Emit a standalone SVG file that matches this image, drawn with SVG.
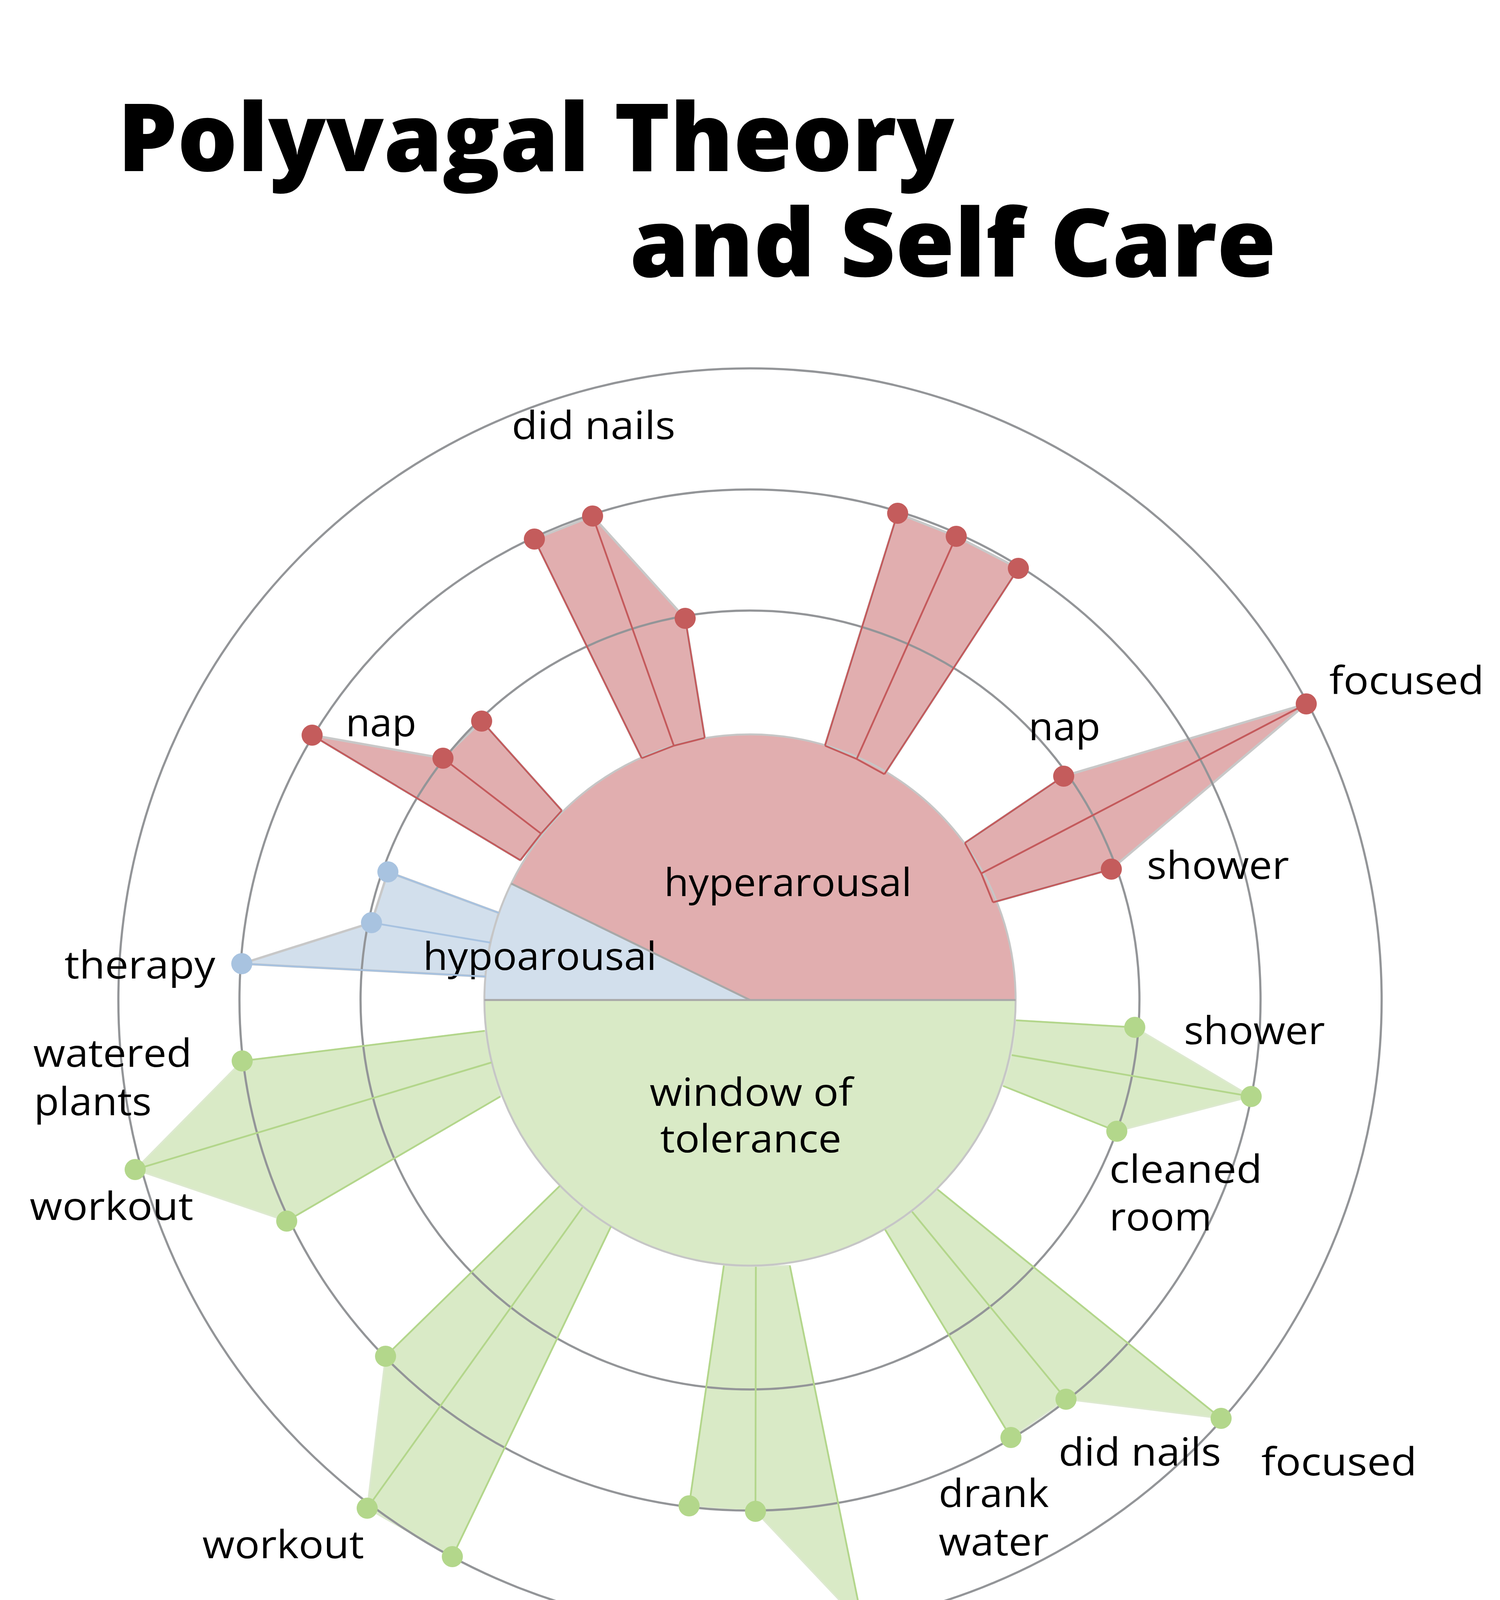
<svg xmlns="http://www.w3.org/2000/svg" width="3840" height="5120" viewBox="0 0 3840 5120">
<style>
.bg{fill:#ffffff}
.ring{fill:none;stroke:#939598;stroke-width:5.5}
.sr{fill:#e1aeaf;stroke:#c8c8c8;stroke-width:6;stroke-linejoin:round}
.sb{fill:#d2dfec;stroke:#c8c8c8;stroke-width:6;stroke-linejoin:round}
.sg{fill:#d9eac6;stroke:#dde9d0;stroke-width:4;stroke-linejoin:round}
.lr{fill:none;stroke:#c45a5c;stroke-width:4.5;stroke-linejoin:round}
.lb{fill:none;stroke:#a7c2e0;stroke-width:4.5;stroke-linejoin:round}
.lg{fill:none;stroke:#b3d68b;stroke-width:4.5;stroke-linejoin:round}
.dr{fill:#c45c5c}
.db{fill:#a8c3e0}
.dg{fill:#b3d78b}
.cr{fill:#e1aeaf}
.cb{fill:#d2dfec}
.cg{fill:#d9eac6}
.edge{fill:none;stroke:#c6c6c6;stroke-width:5}
.div{fill:none;stroke:#a8a8a8;stroke-width:5}
.lbl{font-family:"Open Sans","Liberation Sans",sans-serif;font-size:98px;fill:#000000}
.ttl{font-family:"Open Sans","Liberation Sans",sans-serif;font-weight:800;font-size:242px;fill:#000000}
</style>
<rect class="bg" x="0" y="0" width="3840" height="5120"/>

<g id="title">
<text class="ttl" x="301" y="438" textLength="2142" lengthAdjust="spacingAndGlyphs">Polyvagal Theory</text>
<text class="ttl" x="1612" y="708" textLength="1655" lengthAdjust="spacingAndGlyphs">and Self Care</text>
</g>

<g id="spike-fills">
<polygon class="sr" points="799,1882 1134,1941 1233,1846 1438,2075 1385,2134 1332,2202"/>
<polygon class="sr" points="1368,1380 1517,1321 1754,1583 1804,1889 1725,1909 1643,1941"/>
<polygon class="sr" points="2298,1314 2448,1373 2607,1455 2264,1982 2193,1943 2112,1909"/>
<polygon class="sr" points="2723,1987 3344,1802 2845,2225 2542,2310 2512,2236 2470,2158"/>
<polygon class="sb" points="993,2232 951,2362 619,2467 1243,2500 1255,2413 1277,2337"/>
<polygon class="sg" points="620,2716 346,2994 734,3126 1281,2807 1258,2720 1241,2639"/>
<polygon class="sg" points="987,3472 940,3861 1158,3985 1564,3140 1491,3091 1433,3036"/>
<polygon class="sg" points="1764,3855 1934,3869 2209,4160 2022,3240 1935,3243 1853,3240"/>
<polygon class="sg" points="2588,3680 2729,3582 3126,3631 2400,3045 2335,3102 2266,3148"/>
<polygon class="sg" points="2905,2630 3203,2807 2859,2896 2568,2780 2590,2701 2601,2612"/>
</g>

<g id="rings">
<circle class="ring" cx="1920" cy="2560" r="997"/>
<circle class="ring" cx="1920" cy="2560" r="1307"/>
<circle class="ring" cx="1920" cy="2560" r="1617"/>
</g>

<g id="node-hyperarousal">
<path class="cr" d="M1920 2560 L2600 2560 A680 680 0 0 0 1308.8 2261.9 Z"/>
<path class="edge" d="M2600 2560 A680 680 0 0 0 1308.8 2261.9"/>
<text class="lbl" x="1700" y="2294" textLength="634" lengthAdjust="spacingAndGlyphs">hyperarousal</text>
</g>
<g id="node-hypoarousal">
<path class="cb" d="M1920 2560 L1308.8 2261.9 A680 680 0 0 0 1240 2560 Z"/>
<path class="edge" d="M1308.8 2261.9 A680 680 0 0 0 1240 2560"/>
<text class="lbl" x="1083" y="2483" textLength="598" lengthAdjust="spacingAndGlyphs">hypoarousal</text>
</g>
<g id="node-window">
<path class="cg" d="M1240 2560 A680 680 0 0 0 2600 2560 Z"/>
<path class="edge" d="M1240 2560 A680 680 0 0 0 2600 2560"/>
<text class="lbl" x="1923" y="2831" text-anchor="middle" textLength="520" lengthAdjust="spacingAndGlyphs">window of</text>
<text class="lbl" x="1922" y="2950" text-anchor="middle" textLength="464" lengthAdjust="spacingAndGlyphs">tolerance</text>
</g>
<g id="dividers">
<line class="div" x1="1240" y1="2560" x2="2600" y2="2560"/>
<line class="div" x1="1920" y1="2560" x2="1308.8" y2="2261.9"/>
</g>

<g id="connectors">
<path class="lr" d="M799,1882 L1332,2202 M1134,1941 L1385,2134 M1233,1846 L1438,2075 M1332,2202 L1385,2134 L1438,2075"/>
<path class="lr" d="M1368,1380 L1643,1941 M1517,1321 L1725,1909 M1754,1583 L1804,1889 M1643,1941 L1725,1909 L1804,1889"/>
<path class="lr" d="M2298,1314 L2112,1909 M2448,1373 L2193,1943 M2607,1455 L2264,1982 M2112,1909 L2193,1943 L2264,1982"/>
<path class="lr" d="M2723,1987 L2470,2158 M3344,1802 L2512,2236 M2845,2225 L2542,2310 M2470,2158 L2512,2236 L2542,2310"/>
<path class="lb" d="M993,2232 L1277,2337 M951,2362 L1255,2413 M619,2467 L1243,2500"/>
<path class="lg" d="M620,2716 L1241,2639 M346,2994 L1258,2720 M734,3126 L1281,2807"/>
<path class="lg" d="M987,3472 L1433,3036 M940,3861 L1491,3091 M1158,3985 L1564,3140"/>
<path class="lg" d="M1764,3855 L1853,3240 M1934,3869 L1935,3243 M2209,4160 L2022,3240"/>
<path class="lg" d="M2588,3680 L2266,3148 M2729,3582 L2335,3102 M3126,3631 L2400,3045"/>
<path class="lg" d="M2905,2630 L2601,2612 M3203,2807 L2590,2701 M2859,2896 L2568,2780"/>
</g>

<g id="node-red-nap-left">
<circle class="dr" cx="799" cy="1882" r="27"/>
<circle class="dr" cx="1134" cy="1941" r="27"/>
<circle class="dr" cx="1233" cy="1846" r="27"/>
<text class="lbl" x="885" y="1885" textLength="181" lengthAdjust="spacingAndGlyphs">nap</text>
</g>
<g id="node-red-did-nails">
<circle class="dr" cx="1368" cy="1380" r="27"/>
<circle class="dr" cx="1517" cy="1321" r="27"/>
<circle class="dr" cx="1754" cy="1583" r="27"/>
<text class="lbl" x="1310" y="1124" textLength="419" lengthAdjust="spacingAndGlyphs">did nails</text>
</g>
<g id="node-red-right-top">
<circle class="dr" cx="2298" cy="1314" r="27"/>
<circle class="dr" cx="2448" cy="1373" r="27"/>
<circle class="dr" cx="2607" cy="1455" r="27"/>
</g>
<g id="node-red-right">
<circle class="dr" cx="2723" cy="1987" r="27"/>
<circle class="dr" cx="3344" cy="1802" r="27"/>
<circle class="dr" cx="2845" cy="2225" r="27"/>
<text class="lbl" x="2633" y="1895" textLength="184" lengthAdjust="spacingAndGlyphs">nap</text>
<text class="lbl" x="3403" y="1777" textLength="396" lengthAdjust="spacingAndGlyphs">focused</text>
<text class="lbl" x="2936" y="2250" textLength="364" lengthAdjust="spacingAndGlyphs">shower</text>
</g>
<g id="node-blue">
<circle class="db" cx="993" cy="2232" r="27"/>
<circle class="db" cx="951" cy="2362" r="27"/>
<circle class="db" cx="619" cy="2467" r="27"/>
<text class="lbl" x="165" y="2505" textLength="386" lengthAdjust="spacingAndGlyphs">therapy</text>
</g>
<g id="node-green-left">
<circle class="dg" cx="620" cy="2716" r="27"/>
<circle class="dg" cx="346" cy="2994" r="27"/>
<circle class="dg" cx="734" cy="3126" r="27"/>
<text class="lbl" x="85" y="2731" textLength="406" lengthAdjust="spacingAndGlyphs">watered</text>
<text class="lbl" x="87" y="2855" textLength="301" lengthAdjust="spacingAndGlyphs">plants</text>
<text class="lbl" x="76" y="3123" textLength="419" lengthAdjust="spacingAndGlyphs">workout</text>
</g>
<g id="node-green-bottom-left">
<circle class="dg" cx="987" cy="3472" r="27"/>
<circle class="dg" cx="940" cy="3861" r="27"/>
<circle class="dg" cx="1158" cy="3985" r="27"/>
<text class="lbl" x="518" y="3989" textLength="414" lengthAdjust="spacingAndGlyphs">workout</text>
<text class="lbl" x="1087" y="4185" textLength="398" lengthAdjust="spacingAndGlyphs">focused</text>
</g>
<g id="node-green-bottom">
<circle class="dg" cx="1764" cy="3855" r="27"/>
<circle class="dg" cx="1934" cy="3869" r="27"/>
<circle class="dg" cx="2209" cy="4160" r="27"/>
<text class="lbl" x="2166" y="4311" textLength="412" lengthAdjust="spacingAndGlyphs">workout</text>
</g>
<g id="node-green-bottom-right">
<circle class="dg" cx="2588" cy="3680" r="27"/>
<circle class="dg" cx="2729" cy="3582" r="27"/>
<circle class="dg" cx="3126" cy="3631" r="27"/>
<text class="lbl" x="2403" y="3858" textLength="282" lengthAdjust="spacingAndGlyphs">drank</text>
<text class="lbl" x="2403" y="3982" textLength="282" lengthAdjust="spacingAndGlyphs">water</text>
<text class="lbl" x="2710" y="3752" textLength="416" lengthAdjust="spacingAndGlyphs">did nails</text>
<text class="lbl" x="3229" y="3777" textLength="398" lengthAdjust="spacingAndGlyphs">focused</text>
</g>
<g id="node-green-right">
<circle class="dg" cx="2905" cy="2630" r="27"/>
<circle class="dg" cx="3203" cy="2807" r="27"/>
<circle class="dg" cx="2859" cy="2896" r="27"/>
<text class="lbl" x="3031" y="2673" textLength="361" lengthAdjust="spacingAndGlyphs">shower</text>
<text class="lbl" x="2840" y="3028" textLength="391" lengthAdjust="spacingAndGlyphs">cleaned</text>
<text class="lbl" x="2840" y="3150" textLength="262" lengthAdjust="spacingAndGlyphs">room</text>
</g>

<g id="footer">
<text class="lbl" x="191" y="4852" textLength="2775" lengthAdjust="spacingAndGlyphs">explanation of polyvagal theory and each energy level</text>
</g>
</svg>
